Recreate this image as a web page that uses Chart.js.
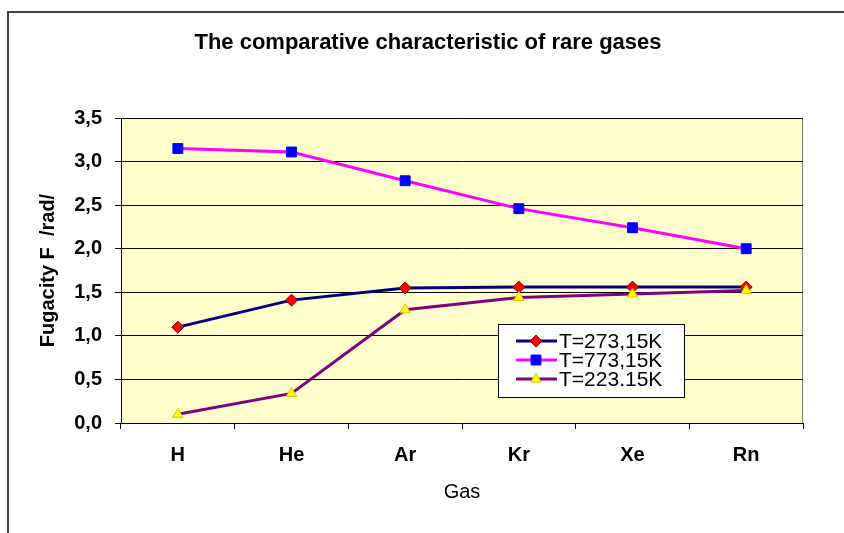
<!DOCTYPE html>
<html>
<head>
<meta charset="utf-8">
<script src="https://cdn.jsdelivr.net/npm/chart.js@4"></script>
<style>
  html, body { margin: 0; padding: 0; background: #fff; }
  #wrap { width: 844px; height: 533px; }
</style>
</head>
<body>
<div id="wrap"><canvas id="rareGases" width="844" height="533"></canvas></div>
<script>
// ------
// data
// ------
const gases = ['H', 'He', 'Ar', 'Kr', 'Xe', 'Rn'];
const t273 = [1.10, 1.41, 1.55, 1.56, 1.56, 1.56];
const t773 = [3.15, 3.11, 2.78, 2.46, 2.24, 2.00];
const t223 = [0.10, 0.34, 1.30, 1.44, 1.48, 1.52];
const seriesNames = ['T=273,15K', 'T=773,15K', 'T=223.15K'];
const chartTitle = 'The comparative characteristic of rare gases';

const FONT = "'Liberation Sans', Arial, sans-serif";

// background, frame, title
const frame = {
  id: 'frame',
  beforeDraw(chart) {
    const { ctx, chartArea: a } = chart;
    ctx.save();
    ctx.fillStyle = '#ffffcc';
    ctx.fillRect(a.left, a.top, a.right - a.left, a.bottom - a.top);
    ctx.strokeStyle = '#808080';
    ctx.lineWidth = 1;
    ctx.strokeRect(a.left + 0.5, a.top + 0.5, a.right - a.left - 1, a.bottom - a.top);
    ctx.strokeStyle = '#404040';
    ctx.lineWidth = 2;
    ctx.strokeRect(8, 12, 900, 600);
    ctx.fillStyle = '#000';
    ctx.font = 'bold 22px ' + FONT;
    ctx.textAlign = 'center';
    ctx.textBaseline = 'middle';
    ctx.fillText(chartTitle, 428, 43);
    ctx.restore();
  }
};

// legend box inside the plot
const boxLegend = {
  id: 'boxLegend',
  afterDraw(chart) {
    const { ctx, chartArea: a } = chart;
    const x = a.left + 377, y = a.top + 206, w = 186, h = 73;
    ctx.save();
    ctx.fillStyle = '#fff';
    ctx.fillRect(x, y, w, h);
    ctx.strokeStyle = '#000';
    ctx.lineWidth = 1;
    ctx.strokeRect(x + 0.5, y + 0.5, w, h);
    chart.data.datasets.forEach((ds, i) => {
      const ry = y + 17 + i * 19;
      ctx.strokeStyle = ds.borderColor;
      ctx.lineWidth = 3;
      ctx.beginPath();
      ctx.moveTo(x + 18, ry);
      ctx.lineTo(x + 59, ry);
      ctx.stroke();
      ctx.fillStyle = ds.pointBackgroundColor;
      ctx.strokeStyle = ds.pointBorderColor;
      ctx.lineWidth = 1;
      Chart.helpers.drawPoint(ctx, {
        pointStyle: ds.pointStyle,
        radius: ds.pointRadius,
        rotation: 0,
        borderWidth: 1
      }, x + 38, ry);
      ctx.fillStyle = '#000';
      ctx.font = '21px ' + FONT;
      ctx.textAlign = 'left';
      ctx.textBaseline = 'middle';
      ctx.fillText(ds.label, x + 61, ry + 1);
    });
    ctx.restore();
  }
};

const ctxEl = document.getElementById('rareGases');
new Chart(ctxEl, {
  type: 'line',
  data: {
    labels: gases,
    datasets: [
      {
        label: seriesNames[0],
        data: t273,
        borderColor: '#000080',
        borderWidth: 3,
        pointStyle: 'rectRot',
        pointRadius: 6,
        pointBackgroundColor: '#ff0000',
        pointBorderColor: '#800000',
        pointBorderWidth: 1,
        order: 2,
      },
      {
        label: seriesNames[1],
        data: t773,
        borderColor: '#ff00ff',
        borderWidth: 3,
        pointStyle: 'rect',
        pointRadius: 7,
        pointBackgroundColor: '#0000ff',
        pointBorderColor: '#0000ff',
        pointBorderWidth: 1,
        order: 3,
      },
      {
        label: seriesNames[2],
        data: t223,
        borderColor: '#800080',
        borderWidth: 3,
        pointStyle: 'triangle',
        pointRadius: 6,
        pointBackgroundColor: '#ffff00',
        pointBorderColor: '#e0c000',
        pointBorderWidth: 1,
        order: 1,
      },
    ],
  },
  options: {
    responsive: false,
    animation: false,
    layout: {
      padding: { left: 0, top: 118, right: 41, bottom: 0 },
    },
    plugins: {
      legend: { display: false },
      title: { display: false },
      tooltip: { enabled: false },
    },
    scales: {
      x: {
        offset: true,
        afterFit(scale) { scale.height = 110; },
        grid: {
          offset: true,
          drawOnChartArea: false,
          tickLength: 6,
          tickColor: '#000',
        },
        border: { color: '#000', width: 1 },
        ticks: {
          color: '#000',
          padding: 14,
          font: { family: FONT, size: 20, weight: 'bold' },
        },
        title: {
          display: true,
          text: 'Gas',
          color: '#000',
          font: { family: FONT, size: 20 },
          padding: { top: 0, bottom: 29 },
        },
      },
      y: {
        min: 0,
        max: 3.5,
        afterFit(scale) { scale.width = 121; },
        grid: {
          color: '#000',
          lineWidth: 1,
          tickLength: 6,
          tickColor: '#000',
        },
        border: { color: '#000', width: 1 },
        ticks: {
          stepSize: 0.5,
          color: '#000',
          padding: 13,
          font: { family: FONT, size: 20, weight: 'bold' },
          callback: (v) => v.toFixed(1).replace('.', ','),
        },
        title: {
          display: true,
          text: 'Fugacity F  /rad/',
          color: '#000',
          font: { family: FONT, size: 20, weight: 'bold' },
          padding: { top: 36, bottom: 0 },
        },
      },
    },
  },
  plugins: [frame, boxLegend],
});
</script>
</body>
</html>
